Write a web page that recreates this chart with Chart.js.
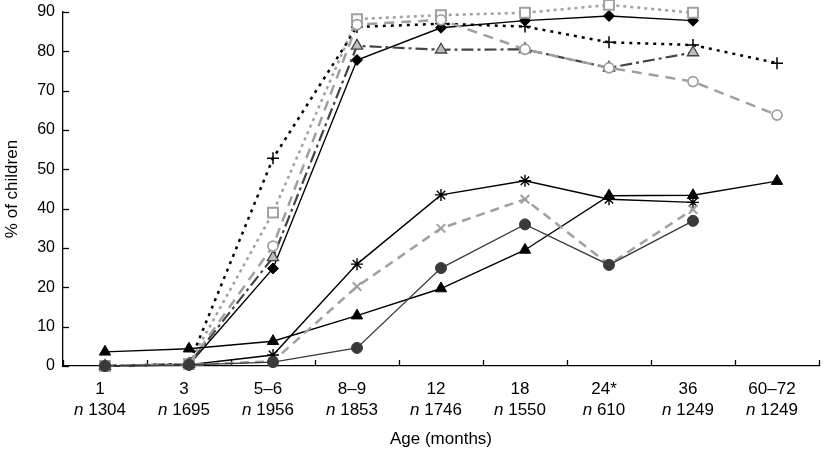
<!DOCTYPE html>
<html>
<head>
<meta charset="utf-8">
<script src="https://cdn.jsdelivr.net/npm/chart.js@4.4.0/dist/chart.umd.min.js"></script>
<style>
  html, body { margin: 0; padding: 0; background: #fff; }
  #wrap { width: 828px; height: 453px; position: relative; }
</style>
</head>
<body>
<div id="wrap"><canvas id="c" width="828" height="453"></canvas></div>
<script>
// ---- Data ----
const ageLabels = ["1", "3", "5–6", "8–9", "12", "18", "24*", "36", "60–72"];
const sampleSizes = ["1304", "1695", "1956", "1853", "1746", "1550", "610", "1249", "1249"];
const yTicks = [0, 10, 20, 30, 40, 50, 60, 70, 80, 90];

const seriesDiamond   = [0, 0.3, 24.8, 77.8, 86.0, 87.8, 89.0, 87.8, null];
const seriesSquare    = [0, 0.5, 39.0, 88.2, 89.2, 89.8, 91.8, 89.8, null];
const seriesPlus      = [0, 0.5, 52.8, 86.2, 87.0, 86.3, 82.3, 81.6, 77.0];
const seriesOpenCirc  = [0, 0.5, 30.5, 86.8, 88.0, 80.5, 75.8, 72.3, 63.8];
const seriesGreyTri   = [0, 0.5, 27.6, 81.4, 80.4, 80.5, 75.8, 79.7, null];
const seriesAsterisk  = [0, 0.3, 2.8, 25.9, 43.5, 47.1, 42.4, 41.6, null];
const seriesCrossX    = [0, 0.3, 1.2, 20.2, 35.0, 42.4, 25.8, 39.8, null];
const seriesDarkCirc  = [0, 0.3, 1.0, 4.6, 24.9, 36.0, 25.7, 36.9, null];
const seriesBlackTri  = [3.6, 4.4, 6.3, 12.8, 19.7, 29.5, 43.3, 43.4, 47.0];

const FONT = "'Liberation Sans', Arial, Helvetica, sans-serif";

function ds(data, o) {
  return Object.assign({
    data: data, fill: false, tension: 0, spanGaps: false, clip: false,
    pointHoverRadius: 0
  }, o);
}

const datasets = [
  ds(seriesDarkCirc, { label: 'a', borderColor: '#3a3a3a', borderWidth: 1.3,
    pointStyle: 'circle', pointRadius: 5.5, pointBackgroundColor: '#3a3a3a', pointBorderColor: '#3a3a3a', pointBorderWidth: 1 }),
  ds(seriesCrossX, { label: 'b', borderColor: '#a0a0a0', borderWidth: 2.5, borderDash: [9, 6],
    pointStyle: 'crossRot', pointRadius: 6, pointBorderColor: '#a0a0a0', pointBorderWidth: 2 }),
  ds(seriesBlackTri, { label: 'c', borderColor: '#000', borderWidth: 1.4,
    pointStyle: 'triangle', pointRadius: 6.5, pointBackgroundColor: '#000', pointBorderColor: '#000', pointBorderWidth: 1 }),
  ds(seriesAsterisk, { label: 'd', borderColor: '#000', borderWidth: 1.4,
    pointStyle: 'star', pointRadius: 6, pointBorderColor: '#000', pointBorderWidth: 1.4 }),
  ds(seriesOpenCirc, { label: 'e', borderColor: '#a0a0a0', borderWidth: 2.5, borderDash: [10, 7],
    pointStyle: 'circle', pointRadius: 5, pointBackgroundColor: '#fff', pointBorderColor: '#a0a0a0', pointBorderWidth: 1.8 }),
  ds(seriesGreyTri, { label: 'f', borderColor: '#444', borderWidth: 2.2, borderDash: [12, 4, 3, 4],
    pointStyle: 'triangle', pointRadius: 6.5, pointBackgroundColor: '#bdbdbd', pointBorderColor: '#444', pointBorderWidth: 1.3 }),
  ds(seriesPlus, { label: 'g', borderColor: '#000', borderWidth: 2.5, borderDash: [3, 5],
    pointStyle: 'cross', pointRadius: 6, pointBorderColor: '#000', pointBorderWidth: 1.5 }),
  ds(seriesSquare, { label: 'h', borderColor: '#a0a0a0', borderWidth: 2.5, borderDash: [3, 4],
    pointStyle: 'rect', pointRadius: 7, pointBackgroundColor: '#fff', pointBorderColor: '#a0a0a0', pointBorderWidth: 2 }),
  ds(seriesDiamond, { label: 'i', borderColor: '#000', borderWidth: 1.4,
    pointStyle: 'rectRot', pointRadius: 5.5, pointBackgroundColor: '#000', pointBorderColor: '#000', pointBorderWidth: 1 })
];

const LABEL_SHIFT = -5;

const customAxes = {
  id: 'customAxes',
  beforeDatasetsDraw(chart) {
    const ctx = chart.ctx;
    const xs = chart.scales.x, ys = chart.scales.y;
    const area = chart.chartArea;
    ctx.save();
    ctx.strokeStyle = '#000';
    ctx.lineWidth = 1.3;
    yTicks.forEach(v => {
      const y = Math.round(ys.getPixelForValue(v)) + 0.5;
      ctx.beginPath(); ctx.moveTo(area.left, y); ctx.lineTo(area.left + 6, y); ctx.stroke();
    });
    const p0 = xs.getPixelForValue(0), p1 = xs.getPixelForValue(1);
    const sp = p1 - p0;
    for (let k = 0; k <= ageLabels.length; k++) {
      const x = Math.round(p0 - sp / 2 + k * sp) + 0.5;
      ctx.beginPath(); ctx.moveTo(x, area.bottom); ctx.lineTo(x, area.bottom - 6); ctx.stroke();
    }
    ctx.restore();
  },
  afterDraw(chart) {
    const ctx = chart.ctx;
    const xs = chart.scales.x;
    const area = chart.chartArea;
    ctx.save();
    ctx.fillStyle = '#000';
    ctx.textBaseline = 'middle';
    ageLabels.forEach((lab, i) => {
      const x = xs.getPixelForValue(i) + LABEL_SHIFT;
      ctx.font = '17px ' + FONT;
      ctx.textAlign = 'center';
      ctx.fillText(lab, x, area.bottom + 23);
      const it = 'n';
      const rest = ' ' + sampleSizes[i];
      ctx.font = 'italic 17px ' + FONT;
      const w1 = ctx.measureText(it).width;
      ctx.font = '17px ' + FONT;
      const w2 = ctx.measureText(rest).width;
      const start = x - (w1 + w2) / 2;
      ctx.textAlign = 'left';
      ctx.font = 'italic 17px ' + FONT;
      ctx.fillText(it, start, area.bottom + 44);
      ctx.font = '17px ' + FONT;
      ctx.fillText(rest, start + w1, area.bottom + 44);
    });
    ctx.restore();
  }
};

new Chart(document.getElementById('c'), {
  type: 'line',
  data: { labels: ageLabels, datasets: datasets },
  options: {
    responsive: false,
    animation: false,
    devicePixelRatio: 1,
    layout: { padding: { top: 12, right: 1, bottom: 0, left: 0 } },
    plugins: { legend: { display: false }, tooltip: { enabled: false } },
    scales: {
      x: {
        type: 'category',
        offset: true,
        grid: { display: true, drawOnChartArea: false, drawTicks: false, offset: true, color: 'rgba(0,0,0,0)' },
        border: { display: true, color: '#000', width: 1.3 },
        ticks: { display: false },
        title: { display: true, text: 'Age (months)', color: '#000',
                 font: { family: FONT, size: 17 }, padding: { top: 0, bottom: 3 } },
        afterFit(scale) { scale.height = 87; scale.paddingLeft = 0; scale.paddingRight = 0; }
      },
      y: {
        min: 0, max: 90,
        grid: { display: true, drawOnChartArea: false, drawTicks: false, color: 'rgba(0,0,0,0)' },
        border: { display: true, color: '#000', width: 1.3 },
        ticks: { stepSize: 10, padding: 8, color: '#000', font: { family: FONT, size: 16 } },
        title: { display: true, text: '% of children', color: '#000',
                 font: { family: FONT, size: 17 }, padding: { top: 2, bottom: 0 } },
        afterFit(scale) { scale.width = 63; scale.paddingTop = 0; scale.paddingBottom = 0; }
      }
    }
  },
  plugins: [customAxes]
});
</script>
</body>
</html>
